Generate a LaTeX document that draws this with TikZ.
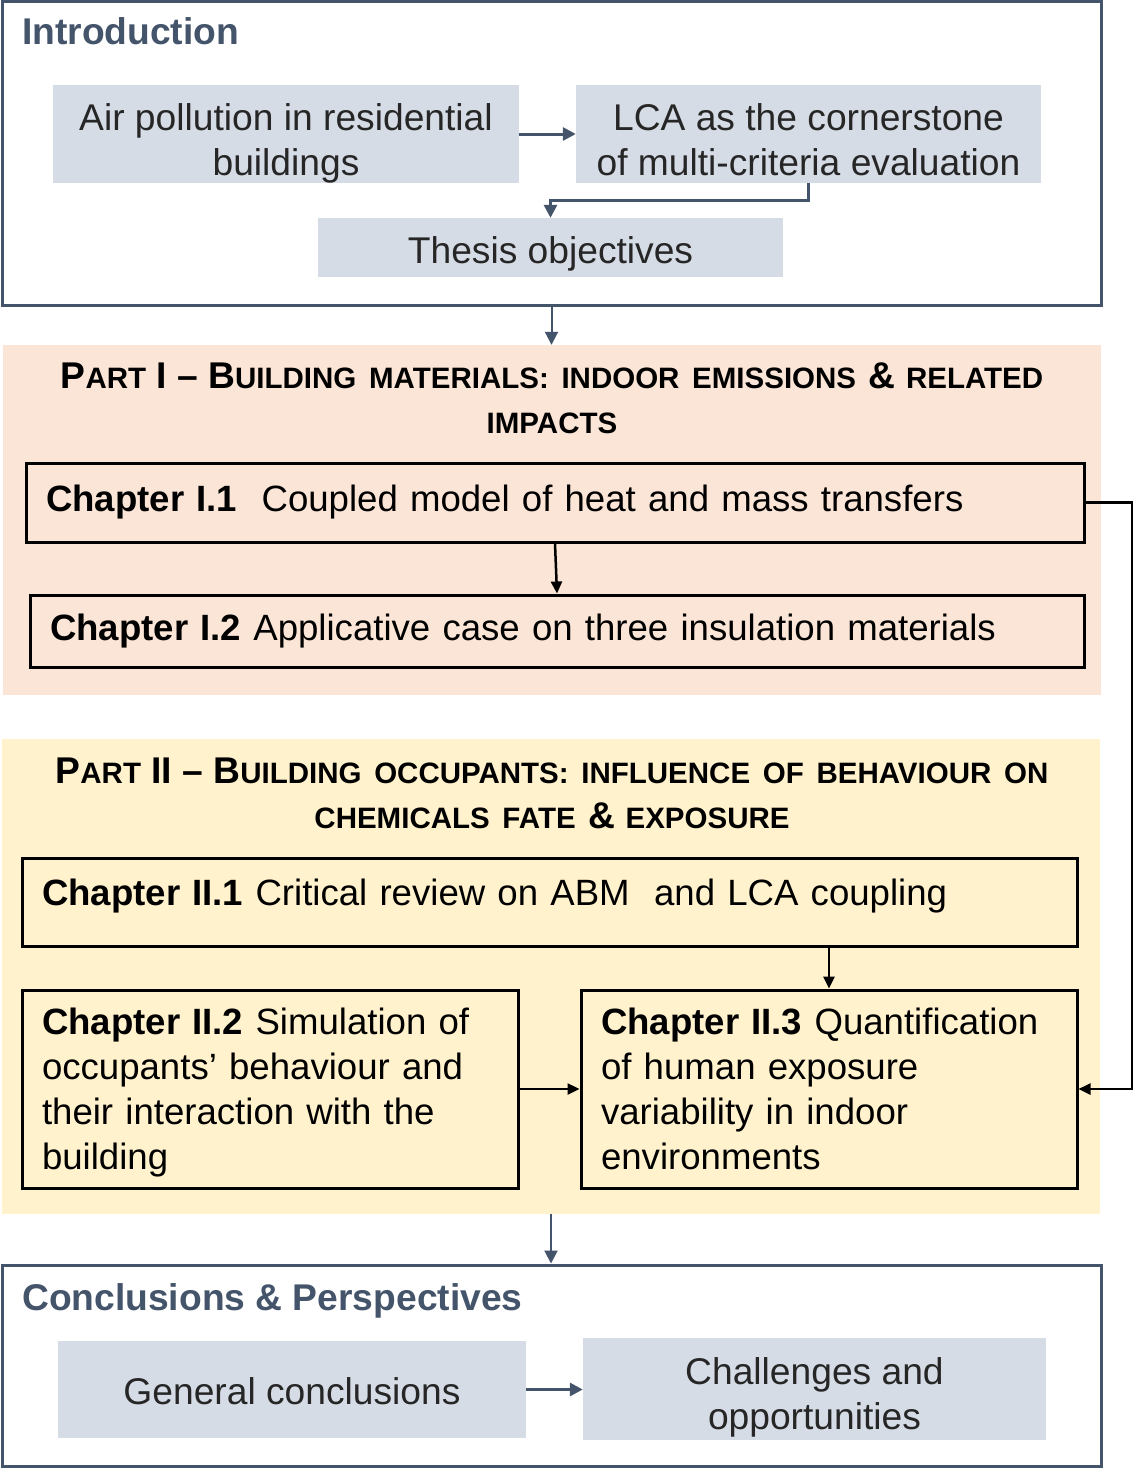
\documentclass[tikz,border=0pt]{standalone}
\usepackage{fontspec}
\setmainfont{Liberation Sans}
\usetikzlibrary{arrows.meta}

\definecolor{slate}{HTML}{44546A}
\definecolor{boxgrey}{HTML}{D6DCE5}
\definecolor{inkgrey}{HTML}{262626}
\definecolor{peach}{HTML}{FBE5D6}
\definecolor{cream}{HTML}{FFF2CC}

% fake small caps for the part headings
\newcommand{\sml}[1]{{\fontsize{29.5}{45}\selectfont #1}}
\newcommand{\wsp}{\hspace{12.7pt}}

\begin{document}
\begin{tikzpicture}[x=1pt,y=-1pt,font=\fontsize{37.2}{45}\selectfont]
\tikzstyle{frame}=[draw=slate,line width=3pt,rectangle,inner sep=0pt]
\tikzstyle{greybox}=[fill=boxgrey,rectangle,text=inkgrey,align=center,inner sep=0pt]
\tikzstyle{partbg}=[rectangle,inner sep=0pt]
\tikzstyle{chapbox}=[draw=black,line width=3pt,rectangle,align=left,inner xsep=20pt,font=\fontsize{36.6}{45}\selectfont]
\tikzstyle{title}=[inner sep=0pt,font=\fontsize{37.2}{45}\selectfont\bfseries]
\tikzstyle{slatearrow}=[draw=slate,line width=3pt,-{Triangle[length=13pt,width=13pt]}]
\tikzstyle{blackarrow}=[draw=black,line width=2.5pt,-{Triangle[length=12pt,width=11pt]}]

  \fill[white] (0,0) rectangle (1133,1468);
  \useasboundingbox (0,0) rectangle (1133,1468);

  % Introduction
  \node[frame,minimum width=1099pt,minimum height=304pt] (intro) at (551.5,153) {};
  \node[title,anchor=base west,text=slate] (introtitle) at (22,44) {Introduction};
  \node[greybox,minimum width=466pt,minimum height=98pt,text height=82pt,text depth=0pt] (airpol) at (286,134) {Air pollution in residential\\buildings};
  \node[greybox,minimum width=465pt,minimum height=98pt,text height=82pt,text depth=0pt] (lca) at (808.5,134) {LCA as the cornerstone\\of multi-criteria evaluation};
  \node[greybox,minimum width=465pt,minimum height=59pt,text height=31pt,text depth=0pt] (thesis) at (550.5,247.5) {Thesis objectives};

  % Part I
  \node[partbg,fill=peach,minimum width=1098pt,minimum height=350pt] (partI) at (552,520) {};
  \node[title,align=center] (partItitle) at (552,398.5)
    {P\sml{ART} I -- B\sml{UILDING}\wsp\sml{MATERIALS:}\wsp\sml{INDOOR}\wsp\sml{EMISSIONS}\wsp\&\ \sml{RELATED}\\\sml{IMPACTS}};
  \node[chapbox,minimum width=1058pt,minimum height=79pt,text width=1018pt] (chI1) at (555,502.5)
    {\textbf{Chapter I.1}\ \ Coupled model of heat and mass transfers};
  \node[chapbox,minimum width=1054pt,minimum height=72pt,text width=1014pt] (chI2) at (557,631)
    {\textbf{Chapter I.2} Applicative case on three insulation materials};

  % Part II
  \node[partbg,fill=cream,minimum width=1098pt,minimum height=475pt] (partII) at (551,976.5) {};
  \node[title,align=center] (partIItitle) at (552,793.5)
    {P\sml{ART} II -- B\sml{UILDING}\wsp\sml{OCCUPANTS:}\wsp\sml{INFLUENCE}\wsp\sml{OF}\wsp\sml{BEHAVIOUR}\wsp\sml{ON}\\\sml{CHEMICALS}\wsp\sml{FATE}\wsp\&\ \sml{EXPOSURE}};
  \node[chapbox,minimum width=1055pt,minimum height=88pt,text width=1015pt,text depth=20pt] (chII1) at (549.5,902)
    {\textbf{Chapter II.1} Critical review on ABM\ \ and LCA coupling};
  \node[chapbox,minimum width=496pt,minimum height=198pt,text width=456pt,text depth=135pt] (chII2) at (270,1089)
    {\textbf{Chapter II.2} Simulation of\\occupants’ behaviour and\\their interaction with the\\building};
  \node[chapbox,minimum width=496pt,minimum height=198pt,text width=456pt] (chII3) at (829,1089)
    {\textbf{Chapter II.3} Quantification\\of human exposure\\variability in indoor\\environments};

  % Conclusions
  \node[frame,minimum width=1099pt,minimum height=201pt] (concl) at (551.5,1365.5) {};
  \node[title,anchor=base west,text=slate] (concltitle) at (22,1310) {Conclusions \& Perspectives};
  \node[greybox,minimum width=468pt,minimum height=97pt,text height=29pt,text depth=0pt] (genconcl) at (292,1389.5) {General conclusions};
  \node[greybox,minimum width=463pt,minimum height=102pt,text height=80pt,text depth=0pt] (challenges) at (814.5,1389) {Challenges and\\opportunities};

  % connectors
  \draw[slatearrow] (airpol.east) -- (lca.west);
  \draw[slatearrow] (lca.south) -- ++(0,17) -| (thesis.north);
  \draw[slatearrow,line width=2pt] (intro.south) -- (intro.south |- partI.north);
  \draw[blackarrow] (chI1.south) -- (chI2.north);
  \draw[blackarrow] (chI1.east) -- ++(47,0) |- (chII3.east);
  \draw[blackarrow] (chII3.north |- chII1.south) -- (chII3.north);
  \draw[blackarrow] (chII2.east) -- (chII3.west);
  \draw[slatearrow,line width=2pt] (partII.south) -- (partII.south |- concl.north);
  \draw[slatearrow] (genconcl.east) -- (genconcl.east -| challenges.west);
\end{tikzpicture}
\end{document}
